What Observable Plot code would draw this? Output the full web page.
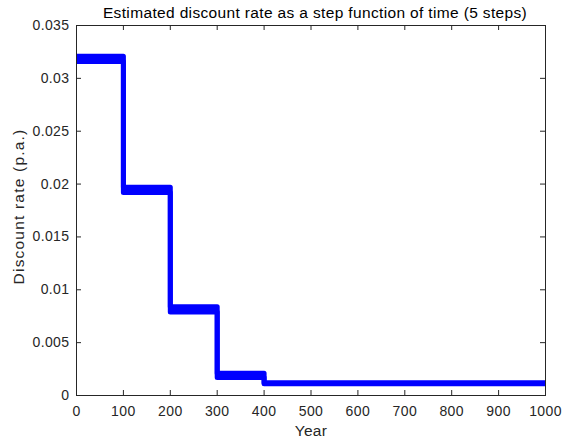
<!DOCTYPE html>
<html>
<head>
<meta charset="utf-8">
<script src="https://cdn.jsdelivr.net/npm/d3@7"></script>
<script src="https://cdn.jsdelivr.net/npm/@observablehq/plot@0.6"></script>
<style>
  html, body { margin: 0; padding: 0; background: #fff; }
  #chart svg { display: block; }
</style>
</head>
<body>
<div id="chart"></div>
<script>
const title = "Estimated discount rate as a step function of time (5 steps)";
const xLabel = "Year";
const yLabel = "Discount rate (p.a.)";
const years = [0, 100, 200, 300, 400, 1000];
const rateHigh = [0.0321, 0.0197, 0.0084, 0.0021, 0.0012, 0.0012];
const rateLow  = [0.0316, 0.0192, 0.0079, 0.0017, 0.0011, 0.0011];
const xTicks = [0, 100, 200, 300, 400, 500, 600, 700, 800, 900, 1000];
const yTicks = [0, 0.005, 0.01, 0.015, 0.02, 0.025, 0.03, 0.035];
const yTickLabels = ["0", "0.005", "0.01", "0.015", "0.02", "0.025", "0.03", "0.035"];

const data = years.map((y, i) => ({year: y, hi: rateHigh[i], lo: rateLow[i]}));
const W = 563, H = 443, mL = 76, mR = 18, mT = 25, mB = 48;
const pw = W - mL - mR, ph = H - mT - mB;
const ink = "#262626";
const font = "'Liberation Sans', Arial, Helvetica, sans-serif";

const chart = Plot.plot({
  width: W, height: H,
  marginLeft: mL, marginRight: mR, marginTop: mT, marginBottom: mB,
  style: {fontFamily: font, fontSize: "14px", color: ink, background: "#fff"},
  x: {domain: [0, 1000]},
  y: {domain: [0, 0.035]},
  marks: [
    Plot.areaY(data, {x: "year", y1: "lo", y2: "hi", curve: "step-after", fill: "#0000ff"}),
    Plot.line(data, {x: "year", y: "hi", curve: "step-after", stroke: "#0000ff", strokeWidth: 5, strokeLinejoin: "round", strokeLinecap: "butt"}),
    Plot.line(data, {x: "year", y: "lo", curve: "step-after", stroke: "#0000ff", strokeWidth: 5, strokeLinejoin: "round", strokeLinecap: "butt"}),
    Plot.frame({stroke: ink, strokeWidth: 1}),
    Plot.tickX(xTicks, {x: d => d, insetTop: ph - 5, stroke: ink}),
    Plot.tickX(xTicks, {x: d => d, insetBottom: ph - 5, stroke: ink}),
    Plot.tickY(yTicks, {y: d => d, insetRight: pw - 5, stroke: ink}),
    Plot.tickY(yTicks, {y: d => d, insetLeft: pw - 5, stroke: ink}),
    Plot.axisX(xTicks, {tickSize: 0, tickPadding: 11, label: null, fill: ink, fontSize: 14,
      tickFormat: d => String(d)}),
    Plot.axisY(yTicks, {tickSize: 0, tickPadding: 7, label: null, fill: ink, fontSize: 14,
      tickFormat: d => yTickLabels[yTicks.indexOf(d)]}),
    Plot.text([title], {frameAnchor: "top", lineAnchor: "middle", textAnchor: "middle", dy: -12, dx: 4, fill: "#000", fontSize: 15.5}),
    Plot.text([xLabel], {frameAnchor: "bottom", lineAnchor: "middle", textAnchor: "middle", dy: 36, fill: ink, fontSize: 15.5}),
    Plot.text([yLabel], {frameAnchor: "left", lineAnchor: "middle", textAnchor: "middle", dx: -57, dy: -4, rotate: -90, fill: ink, fontSize: 15.5})
  ]
});
// widen text tracking to match the reference rendering
chart.querySelectorAll("text").forEach(t => {
  const s = t.textContent;
  if (s === title) t.setAttribute("letter-spacing", "0.35px");
  else if (s === yLabel) t.setAttribute("letter-spacing", "1.2px");
  else if (s === xLabel) t.setAttribute("letter-spacing", "0.3px");
  else t.setAttribute("letter-spacing", "0.4px");
});
document.getElementById("chart").appendChild(chart);
</script>
</body>
</html>
